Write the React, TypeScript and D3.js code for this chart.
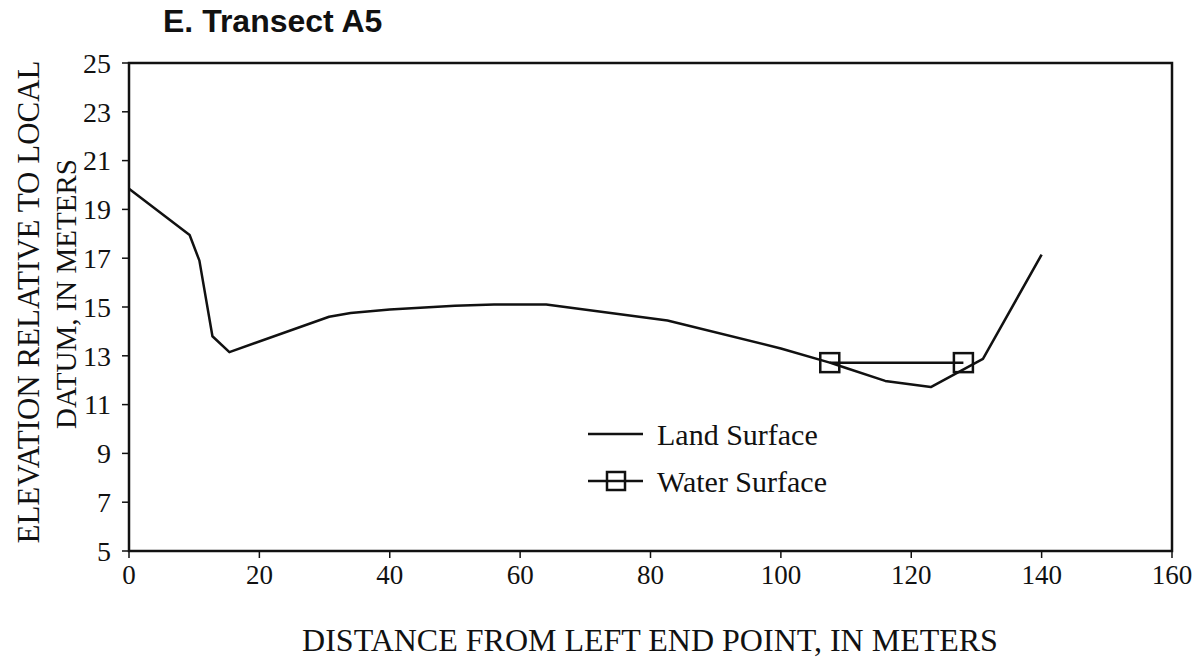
import * as d3 from "d3";

// land surface profile (distance m, elevation m)
const landX = [0, 9.3, 10.8, 12.8, 15.4, 30.7, 34, 40, 50, 56, 64, 82.6, 100, 107.5, 110, 116, 123, 131, 140];
const landY = [19.85, 17.95, 16.9, 13.8, 13.15, 14.6, 14.75, 14.9, 15.05, 15.1, 15.1, 14.45, 13.3, 12.72, 12.5, 11.97, 11.72, 12.87, 17.15];

// water surface
const waterX = [107.5, 128];
const waterY = [12.72, 12.72];

const xTicks = [0, 20, 40, 60, 80, 100, 120, 140, 160];
const yTicks = [5, 7, 9, 11, 13, 15, 17, 19, 21, 23, 25];

const W = 1201;
const H = 661;
const left = 129, right = 1172, top = 63, bottom = 551;
const serif = "'Liberation Serif', 'Times New Roman', serif";
const sans = "'Liberation Sans', Arial, sans-serif";

export default function App() {
  const x = d3.scaleLinear().domain([0, 160]).range([left, right]);
  const y = d3.scaleLinear().domain([5, 25]).range([bottom, top]);

  const line = d3.line<[number, number]>()
    .x(d => x(d[0]))
    .y(d => y(d[1]));

  const land = landX.map((v, i) => [v, landY[i]] as [number, number]);
  const water = waterX.map((v, i) => [v, waterY[i]] as [number, number]);

  const sq = 19;

  return (
    <svg width={W} height={H} style={{ position: "absolute", left: 0, top: 0, background: "#fff" }}>
      <rect x={0} y={0} width={W} height={H} fill="#fff" />
      <text x={163} y={32} fontFamily={sans} fontWeight="bold" fontSize={32} fill="#111">E. Transect A5</text>

      {/* frame */}
      <rect x={left} y={top} width={right - left} height={bottom - top} fill="none" stroke="#111" strokeWidth={2.5} />

      {/* y ticks */}
      {yTicks.map(t => (
        <g key={"y" + t}>
          <line x1={left - 7} x2={left} y1={y(t)} y2={y(t)} stroke="#111" strokeWidth={1.5} />
          <text x={111} y={y(t)} dy="0.35em" textAnchor="end" fontFamily={serif} fontSize={28} fill="#111">{t}</text>
        </g>
      ))}

      {/* x ticks */}
      {xTicks.map(t => (
        <g key={"x" + t}>
          <line x1={x(t)} x2={x(t)} y1={bottom} y2={bottom + 7} stroke="#111" strokeWidth={1.5} />
          <text x={x(t)} y={584} textAnchor="middle" fontFamily={serif} fontSize={27} fill="#111">{t}</text>
        </g>
      ))}

      <text x={650} y={651} textAnchor="middle" fontFamily={serif} fontSize={32} fill="#111">
        DISTANCE FROM LEFT END POINT, IN METERS
      </text>
      <text transform="translate(39,302) rotate(-90)" textAnchor="middle" fontFamily={serif} fontSize={31} fill="#111">
        ELEVATION RELATIVE TO LOCAL
      </text>
      <text transform="translate(76,294) rotate(-90)" textAnchor="middle" fontFamily={serif} fontSize={29} fill="#111">
        DATUM, IN METERS
      </text>

      {/* series */}
      <path d={line(land) ?? ""} fill="none" stroke="#111" strokeWidth={2.5} strokeLinejoin="round" />
      <path d={line(water) ?? ""} fill="none" stroke="#111" strokeWidth={2.5} />
      {water.map((d, i) => (
        <rect key={"w" + i} x={x(d[0]) - sq / 2} y={y(d[1]) - sq / 2} width={sq} height={sq}
          fill="none" stroke="#111" strokeWidth={2.5} />
      ))}

      {/* legend */}
      <line x1={588} x2={643} y1={434} y2={434} stroke="#111" strokeWidth={2.5} />
      <text x={657} y={445} fontFamily={serif} fontSize={30} fill="#111">Land Surface</text>
      <line x1={588} x2={643} y1={481} y2={481} stroke="#111" strokeWidth={2.5} />
      <rect x={616 - 9} y={481 - 9} width={18} height={18} fill="none" stroke="#111" strokeWidth={2.5} />
      <text x={657} y={492} fontFamily={serif} fontSize={30} fill="#111">Water Surface</text>
    </svg>
  );
}
